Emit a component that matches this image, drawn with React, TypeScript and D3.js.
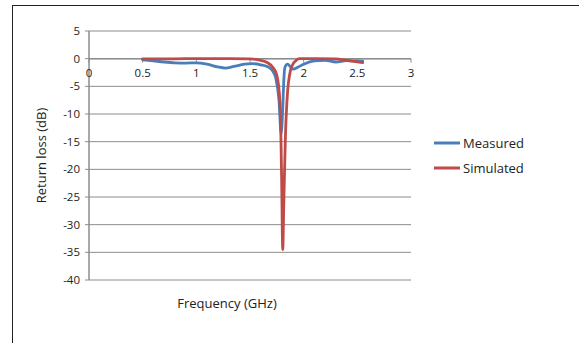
import React from 'react';
import * as d3 from 'd3';

// frequency (GHz) / return loss (dB)
const measuredFreq = [0.5, 0.6, 0.7, 0.8, 0.9, 1.0, 1.1, 1.2, 1.27, 1.35, 1.45, 1.52, 1.6, 1.66, 1.71, 1.74, 1.77, 1.79, 1.805, 1.815, 1.825, 1.85, 1.9, 1.95, 2.0, 2.1, 2.2, 2.3, 2.4, 2.55];
const measuredDb = [-0.2, -0.4, -0.6, -0.75, -0.8, -0.75, -1.0, -1.5, -1.7, -1.4, -1.0, -0.9, -1.1, -1.4, -2.2, -3.5, -7.5, -13.5, -9, -4, -1.6, -1.0, -1.9, -1.5, -1.0, -0.4, -0.3, -0.6, -0.35, -0.45];

const simulatedFreq = [0.5, 0.7, 0.9, 1.1, 1.3, 1.5, 1.6, 1.66, 1.71, 1.75, 1.78, 1.795, 1.805, 1.815, 1.83, 1.85, 1.87, 1.9, 1.93, 1.96, 2.1, 2.3, 2.4, 2.55];
const simulatedDb = [-0.05, -0.05, 0, 0, 0, -0.05, -0.3, -0.7, -1.5, -3, -8, -22, -34.5, -26, -14, -6, -2.8, -1, -0.3, 0, 0, -0.05, -0.3, -0.7];

const xTicks = [0, 0.5, 1, 1.5, 2, 2.5, 3];
const yTicks = [5, 0, -5, -10, -15, -20, -25, -30, -35, -40];

const seriesNames = ['Measured', 'Simulated'];
const seriesColors = ['#4a7ebb', '#be4b48'];

const W = 579;
const H = 343;
const font = 'Open Sans, sans-serif';

export default function App() {
  const x = d3.scaleLinear().domain([0, 3]).range([89, 411]);
  const y = d3.scaleLinear().domain([5, -40]).range([31, 280]);

  const line = d3
    .line<[number, number]>()
    .x((d) => x(d[0]))
    .y((d) => y(d[1]))
    .curve(d3.curveMonotoneX);

  const series = [
    measuredFreq.map((f, i) => [f, measuredDb[i]] as [number, number]),
    simulatedFreq.map((f, i) => [f, simulatedDb[i]] as [number, number]),
  ];

  return (
    <svg
      width={W}
      height={H}
      style={{ position: 'absolute', left: 0, top: 0, background: '#fff' }}
      fontFamily={font}
    >
      <rect x={12.5} y={5.5} width={W} height={H} fill="#fff" stroke="#222" strokeWidth={1} />

      {/* gridlines */}
      {yTicks.map((t) => (
        <line key={t} x1={x(0)} x2={x(3)} y1={y(t)} y2={y(t)} stroke="#8c8c8c" strokeWidth={1} />
      ))}
      <line x1={x(0)} x2={x(0)} y1={y(5)} y2={y(-40)} stroke="#8c8c8c" strokeWidth={1.5} />
      <line x1={x(0)} x2={x(3)} y1={y(0)} y2={y(0)} stroke="#8c8c8c" strokeWidth={1.5} />
      {xTicks.map((t) => (
        <line key={t} x1={x(t)} x2={x(t)} y1={y(0)} y2={y(0) + 4} stroke="#8c8c8c" strokeWidth={1} />
      ))}
      {yTicks.map((t) => (
        <line key={'t' + t} x1={x(0) - 4} x2={x(0)} y1={y(t)} y2={y(t)} stroke="#8c8c8c" strokeWidth={1} />
      ))}

      {/* tick labels */}
      {yTicks.map((t) => (
        <text key={'l' + t} x={x(0) - 9} y={y(t)} dy="0.35em" textAnchor="end" fontSize={11.5} fill="#222">
          {t}
        </text>
      ))}
      {xTicks.map((t) => (
        <text key={'xl' + t} x={x(t)} y={y(0) + 18} textAnchor="middle" fontSize={11.5} fill="#222">
          {t}
        </text>
      ))}

      {/* series */}
      {series.map((s, i) => (
        <path
          key={i}
          d={line(s) || ''}
          fill="none"
          stroke={seriesColors[i]}
          strokeWidth={2.8}
          strokeLinejoin="round"
          strokeLinecap="round"
        />
      ))}

      {/* axis titles */}
      <text x={227} y={308} textAnchor="middle" fontSize={13} fill="#222">
        Frequency (GHz)
      </text>
      <text
        transform={`translate(46, ${y(-17.5)}) rotate(-90)`}
        textAnchor="middle"
        fontSize={13}
        fill="#222"
      >
        Return loss (dB)
      </text>

      {/* legend */}
      {seriesNames.map((n, i) => (
        <g key={n} transform={`translate(434, ${143 + i * 25})`}>
          <line x1={0} x2={26} y1={0} y2={0} stroke={seriesColors[i]} strokeWidth={3} />
          <text x={29} y={0} dy="0.35em" fontSize={13} fill="#222">
            {n}
          </text>
        </g>
      ))}
    </svg>
  );
}
